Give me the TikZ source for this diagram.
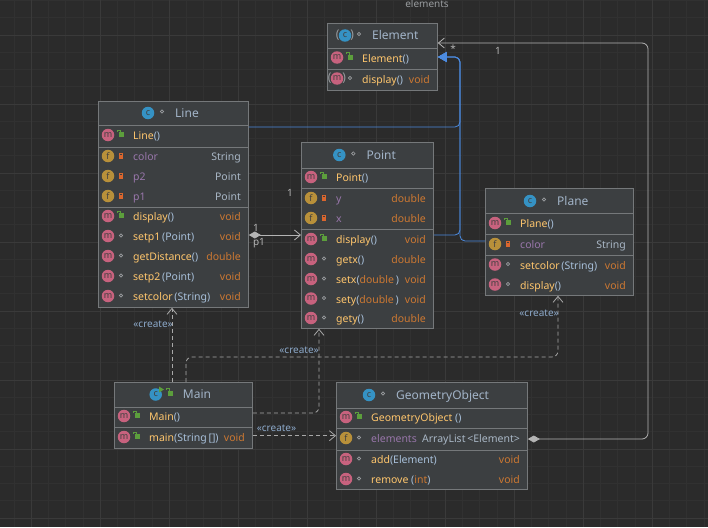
\documentclass[tikz,border=0pt]{standalone}
\usepackage{fontspec}
\setmainfont{Noto Sans}
\usetikzlibrary{arrows.meta}

\definecolor{bg}{HTML}{2B2B2B}
\definecolor{gridminor}{HTML}{313131}
\definecolor{gridmajor}{HTML}{3A3A3A}
\definecolor{boxfill}{HTML}{3C3F41}
\definecolor{boxline}{HTML}{75787A}
\definecolor{mpink}{HTML}{C7627E}
\definecolor{fgold}{HTML}{B8903A}
\definecolor{cblue}{HTML}{3592C4}
\definecolor{methcol}{HTML}{FFC66D}
\definecolor{fieldcol}{HTML}{9876AA}
\definecolor{kwcol}{HTML}{CC7832}
\definecolor{typecol}{HTML}{A9B7C6}
\definecolor{paramcol}{HTML}{A8C0DA}
\definecolor{titlecol}{HTML}{A2B4C8}
\definecolor{lockgreen}{HTML}{5C9E3C}
\definecolor{lockorange}{HTML}{D9662E}
\definecolor{pkggray}{HTML}{9A9DA0}
\definecolor{inhblue}{HTML}{4C8BE0}
\definecolor{linkgray}{HTML}{B4B4B4}
\definecolor{depgray}{HTML}{A8A8A8}
\definecolor{stereocol}{HTML}{8DAACB}

\newcommand{\mname}[1]{\textcolor{methcol}{#1}}
\newcommand{\fldname}[1]{\textcolor{fieldcol}{#1}}
\newcommand{\kwd}[1]{\textcolor{kwcol}{#1}}
\newcommand{\tname}[1]{\textcolor{typecol}{#1}}
\newcommand{\pname}[1]{\textcolor{paramcol}{#1}}

% one member row: name, box left, y, icon, visibility, text, box right, type
\newcommand{\umlrow}[8]{%
  \node[#4] (#1-icon) at (#2+10,#3-1) {};
  \pic at (#2+23,#3) {#5};
  \node[memtext, anchor=west] (#1) at (#2+35,#3) {#6};
  \node[memtext, anchor=east] (#1-type) at (#7-7,#3) {#8};
}
% class header: name, icon x, y, icon, mark, title
\newcommand{\umltitle}[6]{%
  \node[#4] (#1-icon) at (#2,#3) {};
  \pic at (#2+14,#3) {#5};
  \node[titletext, anchor=west] (#1-title) at (#2+27,#3) {#6};
}

\tikzset{
  classbox/.style={draw=boxline, fill=boxfill, line width=0.8pt, inner sep=0pt, anchor=north west},
  sepline/.style={draw=boxline, line width=0.8pt},
  memtext/.style={inner sep=0pt, text height=8pt, text depth=0.5pt, font=\fontsize{10.5}{12}\selectfont, text=typecol},
  titletext/.style={inner sep=0pt, text height=8.5pt, text depth=0.5pt, font=\fontsize{12}{14}\selectfont, text=titlecol},
  icon/.style={circle, inner sep=0pt, minimum size=12.5pt},
  iconletter/.style={inner sep=0pt, text=black!75, font=\fontsize{9}{9}\selectfont},
  micon/.style={icon, fill=mpink, label={[iconletter]center:m}},
  ficon/.style={icon, fill=fgold, label={[iconletter]center:f}},
  cicon/.style={icon, fill=cblue, label={[iconletter]center:c}},
  abs/.style={label={[iconletter, text=pkggray, font=\fontsize{12}{12}\selectfont]center:(\hspace{11pt})}},
  pub/.pic={\fill[lockgreen] (-1.7pt,-1pt) rectangle (3pt,4pt);
    \draw[lockgreen, line width=0.9pt] (-0.5pt,4pt) -- (-0.5pt,5.8pt) -- (-3.3pt,5.8pt) -- (-3.3pt,4.3pt);},
  priv/.pic={\fill[lockorange] (-2pt,-2.3pt) rectangle (2pt,2pt);
    \draw[lockorange, line width=0.9pt] (-1.2pt,2pt) -- (-1.2pt,3.8pt) -- (1.2pt,3.8pt) -- (1.2pt,2pt);},
  pkg/.pic={\draw[pkggray, line width=0.7pt] (0,1.5pt) circle (1.7pt);},
  runmark/.pic={\fill[lockgreen] (-2pt,-3pt) -- (3pt,0) -- (-2pt,3pt) -- cycle;},
  mult/.style={inner sep=0pt, text=linkgray, font=\fontsize{10}{12}\selectfont},
  stereo/.style={inner sep=0pt, text=stereocol, font=\fontsize{10}{12}\selectfont},
  inh/.style={draw=inhblue, line width=0.8pt, rounded corners=5pt, -{Triangle[length=9pt,width=10pt]}},
  comp/.style={draw=linkgray, line width=0.8pt, rounded corners=6pt,
    {Diamond[length=12pt,width=7pt,fill=linkgray]}-{Straight Barb[length=6pt,width=10pt]}},
  dep/.style={draw=depgray, line width=0.8pt, dash pattern=on 4pt off 3pt, rounded corners=6pt,
    -{Straight Barb[length=6pt,width=10pt]}},
}

\begin{document}
\begin{tikzpicture}[x=1pt,y=-1pt]
\fill[bg] (0,0) rectangle (708,527);
\useasboundingbox (0,0) rectangle (708,527);
% grid
\foreach \i in {0,...,40} \draw[gridminor, line width=0.8pt] (14.05+17.25*\i,0) -- ++(0,527);
\foreach \i in {0,...,30} \draw[gridminor, line width=0.8pt] (0,0.5+17.25*\i) -- ++(708,0);
\foreach \i in {0,...,9} \draw[gridmajor, line width=0.8pt] (31.3+69*\i,0) -- ++(0,527);
\foreach \i in {0,...,7} \draw[gridmajor, line width=0.8pt] (0,35+69*\i) -- ++(708,0);

\node[titletext, text=pkggray, font=\fontsize{10}{12}\selectfont] (diagram-title) at (427,4) {elements};

% Element
\node[classbox, minimum width=110pt, minimum height=67pt] (element) at (327,23) {};
\draw[sepline] (327,48) -- (437,48);
\draw[sepline] (327,69) -- (437,69);
\umltitle{element}{345}{35.5}{cicon, abs}{pkg}{Element}
\umlrow{element-ctor}{327}{58.5}{micon}{pub}{\mname{Element}\pname{()}}{437}{}
\umlrow{element-display}{327}{79.5}{micon, abs}{pkg}{\mname{display}\pname{()}}{437}{\kwd{void}}

% Line
\node[classbox, minimum width=150pt, minimum height=206pt] (line) at (98,101) {};
\draw[sepline] (98,125) -- (248,125);
\draw[sepline] (98,147) -- (248,147);
\draw[sepline] (98,207) -- (248,207);
\umltitle{line}{148}{113}{cicon}{pkg}{Line}
\umlrow{line-ctor}{98}{136}{micon}{pub}{\mname{Line}\pname{()}}{248}{}
\umlrow{line-color}{98}{157}{ficon}{priv}{\fldname{color}}{248}{\tname{String}}
\umlrow{line-p2}{98}{177}{ficon}{priv}{\fldname{p2}}{248}{\tname{Point}}
\umlrow{line-p1}{98}{197}{ficon}{priv}{\fldname{p1}}{248}{\tname{Point}}
\umlrow{line-display}{98}{217}{micon}{pub}{\mname{display}\pname{()}}{248}{\kwd{void}}
\umlrow{line-setp1}{98}{237}{micon}{pkg}{\mname{setp1}\,\pname{(Point)}}{248}{\kwd{void}}
\umlrow{line-dist}{98}{257}{micon}{pkg}{\mname{getDistance}\pname{()}}{248}{\kwd{double}}
\umlrow{line-setp2}{98}{277}{micon}{pkg}{\mname{setp2}\,\pname{(Point)}}{248}{\kwd{void}}
\umlrow{line-setcolor}{98}{297}{micon}{pkg}{\mname{setcolor}\,\pname{(String)}}{248}{\kwd{void}}

% Point
\node[classbox, minimum width=132pt, minimum height=186pt] (point) at (301,142) {};
\draw[sepline] (301,168) -- (433,168);
\draw[sepline] (301,188.5) -- (433,188.5);
\draw[sepline] (301,229.5) -- (433,229.5);
\umltitle{point}{339.3}{155}{cicon}{pkg}{Point}
\umlrow{point-ctor}{301}{178}{micon}{pub}{\mname{Point}\pname{()}}{433}{}
\umlrow{point-y}{301}{199}{ficon}{priv}{\fldname{y}}{433}{\kwd{double}}
\umlrow{point-x}{301}{219}{ficon}{priv}{\fldname{x}}{433}{\kwd{double}}
\umlrow{point-display}{301}{240}{micon}{pub}{\mname{display}\pname{()}}{433}{\kwd{void}}
\umlrow{point-getx}{301}{260}{micon}{pkg}{\mname{getx}\pname{()}}{433}{\kwd{double}}
\umlrow{point-setx}{301}{280}{micon}{pkg}{\mname{setx}\pname{(}\kwd{double}\pname{\,)}}{433}{\kwd{void}}
\umlrow{point-sety}{301}{299.5}{micon}{pkg}{\mname{sety}\pname{(}\kwd{double}\pname{\,)}}{433}{\kwd{void}}
\umlrow{point-gety}{301}{319}{micon}{pkg}{\mname{gety}\pname{()}}{433}{\kwd{double}}

% Plane
\node[classbox, minimum width=148pt, minimum height=107pt] (plane) at (485,188) {};
\draw[sepline] (485,213.5) -- (633,213.5);
\draw[sepline] (485,234.5) -- (633,234.5);
\draw[sepline] (485,255) -- (633,255);
\umltitle{plane}{530}{201}{cicon}{pkg}{Plane}
\umlrow{plane-ctor}{485}{224}{micon}{pub}{\mname{Plane}\pname{()}}{633}{}
\umlrow{plane-color}{485}{245}{ficon}{priv}{\fldname{color}}{633}{\tname{String}}
\umlrow{plane-setcolor}{485}{265.5}{micon}{pkg}{\mname{setcolor}\,\pname{(String)}}{633}{\kwd{void}}
\umlrow{plane-display}{485}{285.5}{micon}{pkg}{\mname{display}\pname{()}}{633}{\kwd{void}}

% Main
\node[classbox, minimum width=138pt, minimum height=66pt] (main) at (114,382) {};
\draw[sepline] (114,407) -- (252,407);
\draw[sepline] (114,427.5) -- (252,427.5);
\umltitle{main}{155.7}{394.5}{cicon}{pub}{Main}
\pic at (161,389.5) {runmark};
\umlrow{main-ctor}{114}{417}{micon}{pub}{\mname{Main}\pname{()}}{252}{}
\umlrow{main-main}{114}{438}{micon}{pub}{\mname{main}\pname{(String\,[])}}{252}{\kwd{void}}

% GeometryObject
\node[classbox, minimum width=191pt, minimum height=107pt] (geo) at (336,382) {};
\draw[sepline] (336,408) -- (527,408);
\draw[sepline] (336,428.5) -- (527,428.5);
\draw[sepline] (336,450) -- (527,450);
\umltitle{geo}{369}{395}{cicon}{pkg}{GeometryObject}
\umlrow{geo-ctor}{336}{418}{micon}{pub}{\mname{GeometryObject}\ \pname{()}}{527}{}
\umlrow{geo-elements}{336}{439}{ficon}{pkg}{\fldname{elements}}{527}{\tname{ArrayList\,<Element>}}
\umlrow{geo-add}{336}{460}{micon}{pkg}{\mname{add}\pname{(Element)}}{527}{\kwd{void}}
\umlrow{geo-remove}{336}{480}{micon}{pkg}{\mname{remove}\ \pname{(}\kwd{int}\pname{)}}{527}{\kwd{void}}

% inheritance
\coordinate (inhbend) at (460,57);
\draw[inh] (line.east |- 0,127) -| (inhbend) -- (inhbend -| element.east);
\draw[inh] (point.east |- 0,235) -| (inhbend) -- (inhbend -| element.east);
\draw[inh] (plane.west |- 0,241) -| (inhbend) -- (inhbend -| element.east);

% composition and aggregation
\coordinate (compbend) at (648,43);
\draw[comp] (geo.east |- 0,439) -| (compbend) -- (compbend -| element.east);
\node[mult] (comp-many) at (453,49) {*};
\node[mult] (comp-one) at (498,51) {1};
\draw[comp] (line.east |- 0,235) -- (point.west |- 0,235);
\node[mult] (agg-one) at (256,228) {1};
\node[mult] (agg-role) at (259,243) {p1};
\node[mult] (agg-target) at (290,193) {1};

% create
\coordinate (planebend) at (558,357);
\coordinate (pointbend) at (319,413);
\draw[dep] (main.north -| 172,0) -- (line.south -| 172,0);
\draw[dep] (main.north -| 186,0) |- (planebend) -- (plane.south -| planebend);
\draw[dep] (main.east |- pointbend) -| (point.south -| pointbend);
\draw[dep] (main.east |- 0,435.7) -- (geo.west |- 0,435.7);
\node[stereo, anchor=east] (create-line) at (173,324) {«create»};
\node[stereo, anchor=east] (create-plane) at (559,313) {«create»};
\node[stereo, anchor=east] (create-point) at (319,350) {«create»};
\node[stereo] (create-geo) at (276.5,428) {«create»};
\end{tikzpicture}
\end{document}
